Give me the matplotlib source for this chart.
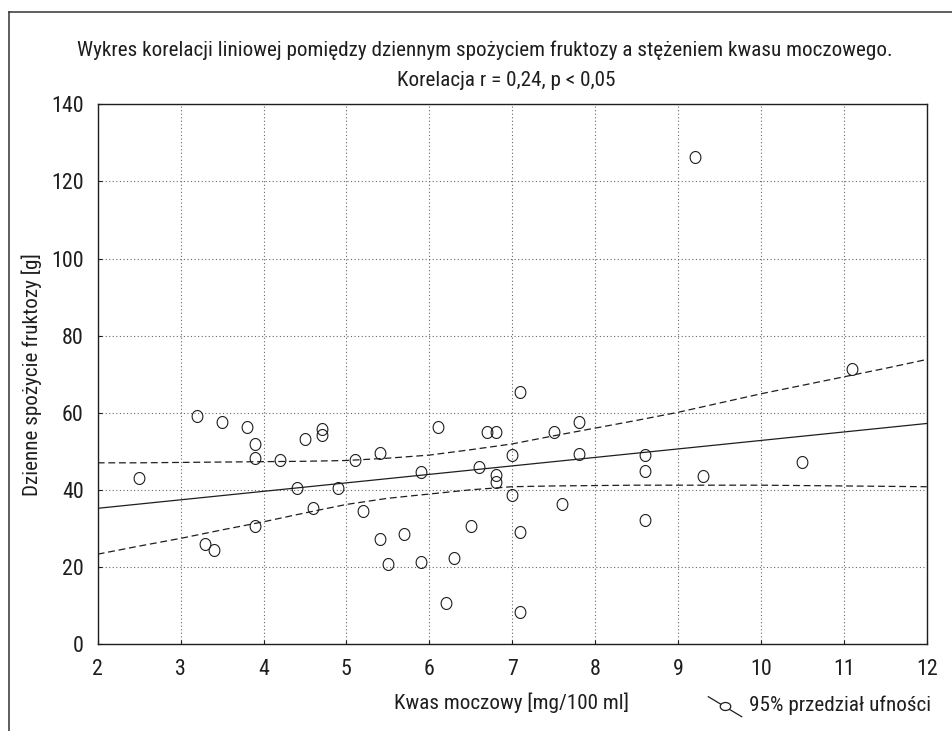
import matplotlib
matplotlib.use("Agg")
import matplotlib.pyplot as plt
from matplotlib.path import Path
from matplotlib.lines import Line2D
from matplotlib.patches import Ellipse
from matplotlib import font_manager
import numpy as np
import glob

# ---------------- data ----------------
kwas_moczowy = [2.5, 3.2, 3.3, 3.4, 3.5, 3.8, 3.9, 3.9, 3.9, 4.2, 4.4, 4.5, 4.6,
                4.7, 4.7, 4.9, 5.1, 5.2, 5.4, 5.4, 5.5, 5.7, 5.9, 5.9, 6.1, 6.2,
                6.3, 6.5, 6.6, 6.7, 6.8, 6.8, 6.8, 7.0, 7.0, 7.1, 7.1, 7.1, 7.5,
                7.6, 7.8, 7.8, 8.6, 8.6, 8.6, 9.2, 9.3, 10.5, 11.1]
fruktoza = [43.0, 59.1, 25.9, 24.3, 57.7, 56.4, 51.8, 48.2, 30.5, 47.7, 40.5, 53.3, 35.4,
            55.8, 54.2, 40.5, 47.7, 34.4, 49.5, 27.3, 20.8, 28.6, 44.6, 21.3, 56.4, 10.6,
            22.2, 30.5, 46.0, 54.9, 54.9, 43.8, 42.0, 48.9, 38.7, 65.4, 29.1, 8.2, 54.9,
            36.3, 57.7, 49.4, 48.9, 45.0, 32.2, 126.3, 43.7, 47.1, 71.3]

line_x = [2, 12]
line_y = [35.2, 57.2]

band_x = [2, 2.5, 3, 3.5, 4, 4.5, 5, 5.5, 6, 6.5, 7, 7.5, 8, 8.5, 9, 9.5, 10, 10.5, 11, 11.5, 12]
band_upper = [47.0, 47.0, 47.1, 47.2, 47.3, 47.4, 47.6, 48.2, 49.0, 50.4, 51.9, 54.0, 56.0,
              58.0, 60.1, 62.5, 64.9, 67.1, 69.3, 71.5, 73.8]
band_lower = [23.3, 25.4, 27.4, 29.6, 31.7, 34.0, 36.2, 37.8, 38.9, 40.0, 40.8, 41.0, 41.1,
              41.2, 41.2, 41.2, 41.2, 41.1, 41.0, 40.9, 40.8]

x_ticks = [2, 3, 4, 5, 6, 7, 8, 9, 10, 11, 12]
y_ticks = [0, 20, 40, 60, 80, 100, 120, 140]

title1 = "Wykres korelacji liniowej pomiędzy dziennym spożyciem fruktozy a stężeniem kwasu moczowego."
title2 = "Korelacja r = 0,24, p < 0,05"
xlabel = "Kwas moczowy [mg/100 ml]"
ylabel = "Dzienne spożycie fruktozy [g]"
legend_label = "95% przedział ufności"

# ---------------- font ----------------
family = None
for pat in ["/usr/share/fonts/**/RobotoCondensed-Regular.ttf",
            "/usr/share/fonts/**/RobotoCondensed*wght*.ttf",
            "/usr/share/fonts/**/PT_Sans-Narrow*Regular*.ttf",
            "/usr/share/fonts/**/ArchivoNarrow*wght*.ttf",
            "/usr/share/fonts/**/DejaVuSansCondensed.ttf"]:
    hits = sorted(glob.glob(pat, recursive=True))
    if hits:
        try:
            font_manager.fontManager.addfont(hits[0])
            family = font_manager.FontProperties(fname=hits[0]).get_name()
            break
        except Exception:
            pass
plt.rcParams['font.family'] = ([family] if family else []) + ["DejaVu Sans"]

ink = "#1e1e1e"
W, H = 953, 731
fig = plt.figure(figsize=(W / 100, H / 100), dpi=100)
fig.patch.set_facecolor("white")

# fit font size so the title spans its reference width (~817 px)
renderer = fig.canvas.get_renderer()
probe = fig.text(0, 0, title1, fontsize=15)
wpx = probe.get_window_extent(renderer).width
probe.remove()
FS = 15 * 817.0 / wpx
FS = min(FS, 16.0)


def fx(px):
    return px / W


def fy(py):
    return 1 - py / H


ax = fig.add_axes([fx(97.7), fy(644), fx(926.7) - fx(97.7), fy(104.3) - fy(644)])

# ellipse marker (slightly taller than wide)
t = np.linspace(0, 2 * np.pi, 60)
ell = Path(np.column_stack([0.9 * np.cos(t), np.sin(t)]), closed=True)

ax.plot(line_x, line_y, color=ink, lw=0.9, zorder=3)
ax.plot(band_x, band_upper, color=ink, lw=0.9, dashes=(5.5, 3), zorder=3)
ax.plot(band_x, band_lower, color=ink, lw=0.9, dashes=(5.5, 3), zorder=3)
ax.plot(kwas_moczowy, fruktoza, linestyle="none", marker=ell, markersize=8.6,
        markerfacecolor="none", markeredgecolor=ink, markeredgewidth=0.8, zorder=4)

ax.set_xlim(2, 12)
ax.set_ylim(0, 140)
ax.set_xticks(x_ticks)
ax.set_yticks(y_ticks)
ax.set_xticklabels([str(v) for v in x_ticks])
ax.set_yticklabels([str(v) for v in y_ticks])
ax.tick_params(direction="in", length=3, width=0.8, colors=ink, labelsize=FS * 1.04)
ax.tick_params(axis="x", pad=11)
ax.tick_params(axis="y", pad=10)
ax.grid(True, color="#666666", linestyle=(0, (1, 2.2)), linewidth=0.8)
ax.set_axisbelow(True)
for s in ax.spines.values():
    s.set_color(ink)
    s.set_linewidth(1.0)

# titles and labels
fig.text(fx(484.5), fy(50), title1, ha="center", va="center", fontsize=FS, color=ink)
fig.text(fx(506), fy(81), title2, ha="center", va="center", fontsize=FS, color=ink)
fig.text(fx(512), fy(703), xlabel, ha="center", va="center", fontsize=FS, color=ink)
fig.text(fx(32), fy(375), ylabel, ha="center", va="center", rotation=90, fontsize=FS, color=ink)

# legend (custom handle)
fig.add_artist(Line2D([fx(708.3), fx(741.7)], [fy(696.7), fy(716.7)], color=ink, lw=0.9,
                      transform=fig.transFigure))
fig.add_artist(Ellipse((fx(725.5), fy(706.5)), fx(10.5), 8.0 / H, facecolor="white",
                       edgecolor=ink, lw=0.9, transform=fig.transFigure, zorder=5))
fig.text(fx(749), fy(705), legend_label, ha="left", va="center", fontsize=FS, color=ink)

# figure frame (top and left only)
fig.add_artist(Line2D([fx(9), fx(953)], [fy(11.7), fy(11.7)], color="#333333", lw=1.1,
                      transform=fig.transFigure))
fig.add_artist(Line2D([fx(9), fx(9)], [fy(11.7), fy(731)], color="#333333", lw=1.1,
                      transform=fig.transFigure))

fig.savefig("out.png", dpi=100, facecolor="white")
